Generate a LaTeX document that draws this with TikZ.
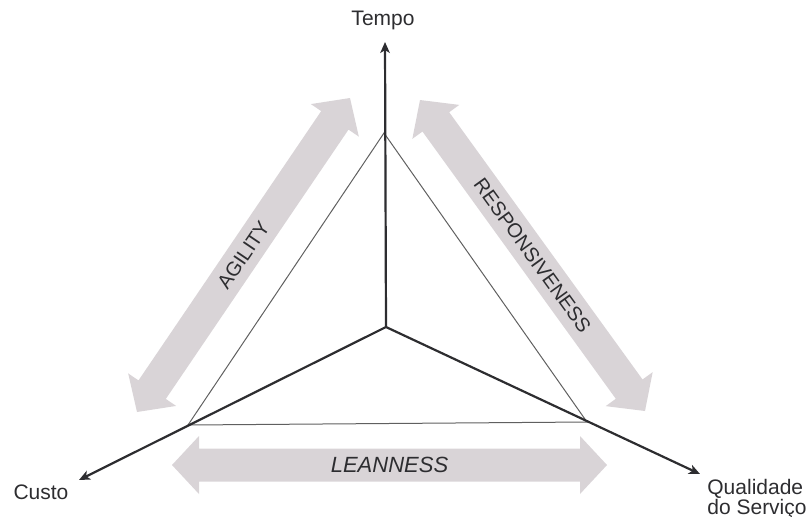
\documentclass[tikz,border=0pt]{standalone}
\usepackage{fontspec}
\setmainfont{Liberation Sans}
\usetikzlibrary{arrows.meta, calc}
\definecolor{band}{RGB}{217,212,215}
\definecolor{ink}{RGB}{45,45,48}
\tikzset{
  axisline/.style={ink, line width=1.1pt, -{Stealth[length=5.5pt, width=4.8pt, inset=1.5pt]}},
  triside/.style={gray!75!black, line width=0.5pt},
  axislabel/.style={text=ink, font=\fontsize{10.5}{10}\selectfont, inner sep=0pt},
  bandlabel/.style={text=ink, font=\fontsize{10}{12}\selectfont, sloped, inner sep=0pt},
}
% wide grey double arrow between two tips, with its text along it
% #1 tip, #2 tip, #3 node name, #4 text style, #5 text
\newcommand{\bandarrow}[5]{%
  \fill[band] (#1)
    -- ($(#1)!13.5pt!(#2)!14.5pt!90:(#2)$) -- ($(#1)!13.5pt!(#2)!8.25pt!90:(#2)$)
    -- ($(#2)!13.5pt!(#1)!8.25pt!-90:(#1)$) -- ($(#2)!13.5pt!(#1)!14.5pt!-90:(#1)$)
    -- (#2)
    -- ($(#2)!13.5pt!(#1)!14.5pt!90:(#1)$) -- ($(#2)!13.5pt!(#1)!8.25pt!90:(#1)$)
    -- ($(#1)!13.5pt!(#2)!8.25pt!-90:(#2)$) -- ($(#1)!13.5pt!(#2)!14.5pt!-90:(#2)$)
    -- cycle;
  \path (#1) -- node[bandlabel, #4] (#3) {#5} (#2);
}

\begin{document}
\begin{tikzpicture}[x=0.5pt, y=-0.5pt]
    \useasboundingbox (0,0) rectangle (809,516);

    % axes
    \coordinate (O) at (386,327);
    \coordinate (tip-t) at (385,42);
    \coordinate (tip-c) at (79,480);
    \coordinate (tip-q) at (700,474);

    \node[axislabel] (tempo) at (383,20) {Tempo};
    \node[axislabel] (custo) at (41,492) {Custo};
    \node[axislabel, align=left] (qual) at (757,499) {Qualidade\\do Serviço};

    % tips of the wide arrows
    \coordinate (ag-a) at (137,412);
    \coordinate (ag-b) at (350,98);
    \coordinate (re-a) at (420,100);
    \coordinate (re-b) at (645,411);
    \coordinate (le-a) at (172,465);
    \coordinate (le-b) at (607,465);

    \bandarrow{ag-a}{ag-b}{agility}{}{AGILITY}
    \bandarrow{re-a}{re-b}{resp}{}{RESPONSIVENESS}
    \bandarrow{le-a}{le-b}{lean}{font=\fontsize{11}{12}\selectfont\itshape}{LEANNESS}

    % triangle
    \coordinate (v-t) at (384,133);
    \coordinate (v-c) at (188,425);
    \coordinate (v-q) at (587,422);
    \draw[triside] (v-t) -- (v-c) -- (v-q) -- cycle;

    \draw[axisline] (O) -- (tip-t);
    \draw[axisline] (O) -- (tip-c);
    \draw[axisline] (O) -- (tip-q);
\end{tikzpicture}
\end{document}
